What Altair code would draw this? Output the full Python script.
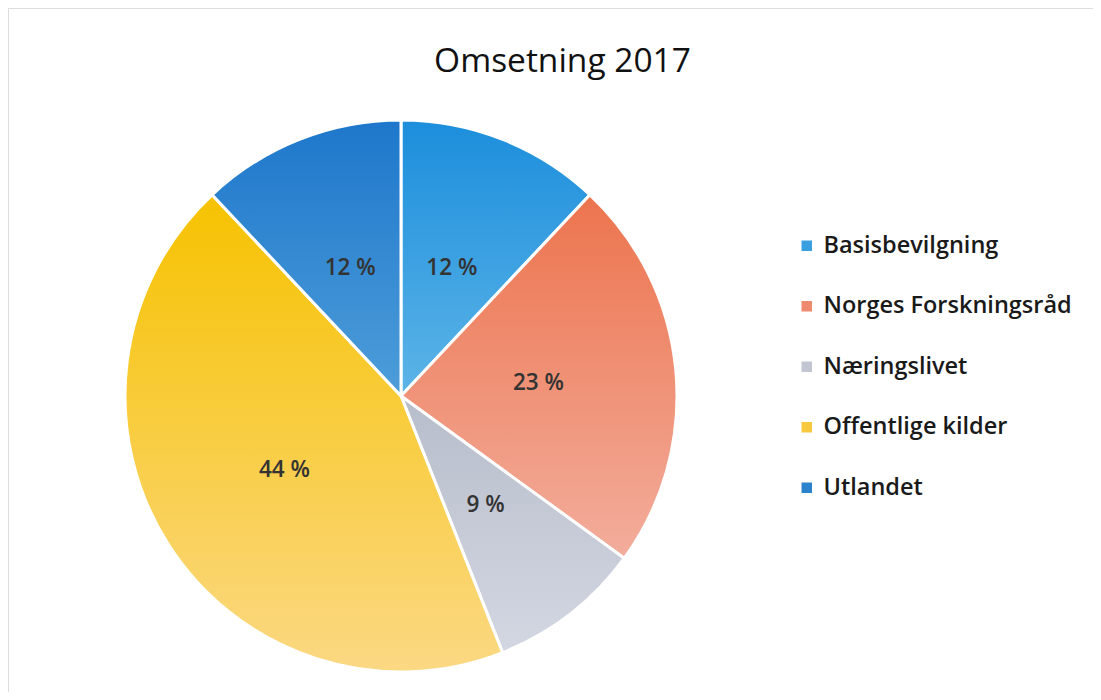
import altair as alt
import pandas as pd

categories = ["Basisbevilgning", "Norges Forskningsråd", "Næringslivet", "Offentlige kilder", "Utlandet"]
values = [12, 23, 9, 44, 12]
labels = ["12 %", "23 %", "9 %", "44 %", "12 %"]
legend_colors = ["#3a9fe0", "#ee8a6e", "#c2c6d2", "#f8c93e", "#2b83cc"]
grad_top = ["#1c8edc", "#ec744e", "#b8bdcb", "#f6c200", "#1e77cb"]
grad_bottom = ["#5cb4e7", "#f3ad9c", "#d3d7e2", "#fbd883", "#4d9dd9"]

df = pd.DataFrame({
    "cat": categories,
    "value": values,
    "label": labels,
    "idx": list(range(len(categories))),
})

CX, CY, R = 393, 388, 276

base = alt.Chart(df).transform_window(
    cum="sum(value)", sort=[alt.SortField("idx")], frame=[None, 0]
).transform_calculate(
    start="datum.cum - datum.value",
    mid="datum.cum - datum.value / 2",
)

theta_scale = alt.Scale(domain=[0, 100], range=[0, 6.283185307179586])

legend_layer = base.mark_arc(outerRadius=R, stroke="white", strokeWidth=3).encode(
    theta=alt.Theta("start:Q", scale=theta_scale),
    theta2="cum:Q",
    x=alt.value(CX),
    y=alt.value(CY),
    color=alt.Color(
        "cat:N",
        sort=categories,
        scale=alt.Scale(domain=categories, range=legend_colors),
        legend=alt.Legend(
            title=None,
            orient="none",
            legendX=787,
            legendY=226,
            symbolType="square",
            symbolSize=110,
            symbolStrokeWidth=0,
            labelFont="Open Sans",
            labelFontSize=23.5,
            labelFontWeight=600,
            labelColor="#1a1a1a",
            labelLimit=0,
            rowPadding=35.5,
            labelOffset=5,
        ),
    ),
)

grad_layers = []
for i, c in enumerate(categories):
    grad_layers.append(
        base.transform_filter(alt.datum.cat == c).mark_arc(
            outerRadius=R,
            stroke="white",
            strokeWidth=3,
            color=alt.Gradient(
                gradient="linear",
                x1=0, y1=0, x2=0, y2=1,
                stops=[
                    alt.GradientStop(offset=0, color=grad_top[i]),
                    alt.GradientStop(offset=1, color=grad_bottom[i]),
                ],
            ),
        ).encode(
            theta=alt.Theta("start:Q", scale=theta_scale),
            theta2="cum:Q",
            x=alt.value(CX),
            y=alt.value(CY),
        )
    )

text_layer = base.mark_text(
    radius=138,
    font="Open Sans",
    fontSize=22.5,
    fontWeight=600,
    color="#333333",
    align="center",
    baseline="middle",
).encode(
    theta=alt.Theta("mid:Q", scale=theta_scale),
    x=alt.value(CX),
    y=alt.value(CY),
    text="label:N",
)

chart = alt.layer(legend_layer, *grad_layers, text_layer).properties(
    width=1085,
    height=684,
    autosize=alt.AutoSizeParams(type="none"),
    padding=0,
    title=alt.TitleParams(
        "Omsetning 2017",
        font="Open Sans",
        fontSize=33.5,
        fontWeight="normal",
        color="#111111",
        anchor="middle",
        frame="group",
        orient="top",
        baseline="alphabetic",
        offset=0,
        dx=12,
        dy=97,
    ),
).configure_view(stroke=None).configure(background="white")

chart.save("out.html", embed_options={"renderer": "svg", "actions": False})
